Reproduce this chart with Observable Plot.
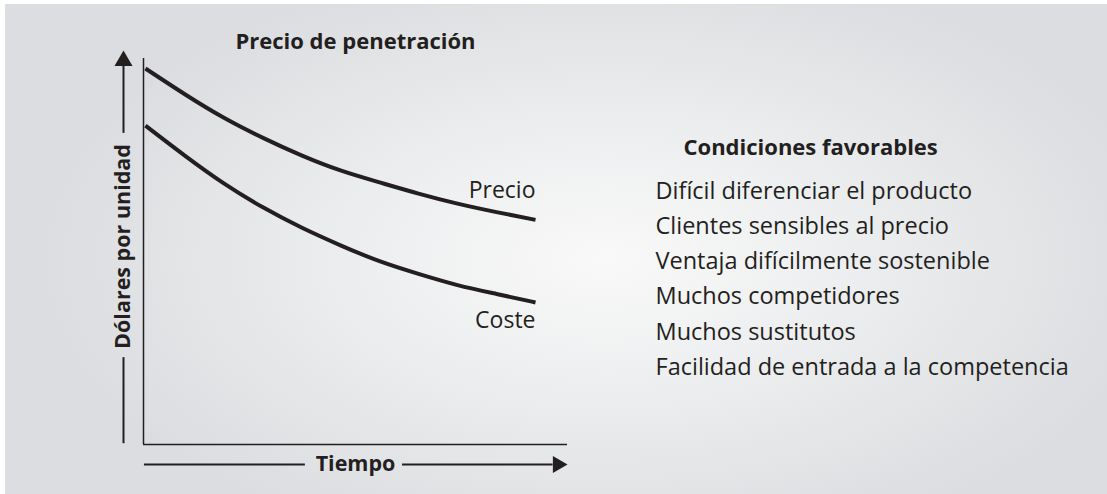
<!DOCTYPE html>
<html>
<head>
<meta charset="utf-8">
<script src="https://cdn.jsdelivr.net/npm/d3@7"></script>
<script src="https://cdn.jsdelivr.net/npm/@observablehq/plot@0.6"></script>
<style>
  html, body { margin: 0; padding: 0; background: #ffffff; }
  #wrap { position: relative; width: 1107px; height: 494px; overflow: hidden; }
  #bg { position: absolute; left: 5px; top: 4px; width: 1102px; height: 490px;
        background: radial-gradient(ellipse 560px 300px at 600px 255px, #f9f9f9 0%, #eeeff0 40%, #dcdde0 100%); }
  #chart { position: absolute; left: 0; top: 0; }
</style>
</head>
<body>
<div id="wrap"><div id="bg"></div><div id="chart"></div></div>
<script>
// ---- data ----
const times = [0, 1, 2, 3, 4, 5, 6, 7, 8, 9, 10];
const precio = [97.4, 90.8, 84.7, 79.5, 74.9, 71.0, 67.9, 65.0, 62.4, 60.2, 58.2];
const coste = [82.6, 74.9, 67.7, 61.5, 56.2, 51.6, 47.5, 44.2, 41.3, 39.0, 36.8];
const seriesNames = ["Precio", "Coste"];
const chartTitle = "Precio de penetración";
const xLabel = "Tiempo";
const yLabel = "Dólares por unidad";
const conditionsTitle = "Condiciones favorables";
const conditions = [
  "Difícil diferenciar el producto",
  "Clientes sensibles al precio",
  "Ventaja difícilmente sostenible",
  "Muchos competidores",
  "Muchos sustitutos",
  "Facilidad de entrada a la competencia"
];

// ---- build table ----
const rows = [];
times.forEach((t, i) => rows.push({series: seriesNames[0], t, v: precio[i]}));
times.forEach((t, i) => rows.push({series: seriesNames[1], t, v: coste[i]}));

const ink = "#231f20";
const xDomain = [-0.05, 10.82];
const yDomain = [0, 100];
const font = "'Open Sans', 'Noto Sans', sans-serif";

const chart = Plot.plot({
  width: 1107,
  height: 494,
  marginLeft: 143,
  marginRight: 540,
  marginTop: 58,
  marginBottom: 50,
  style: {background: "transparent", fontFamily: font, color: ink, overflow: "visible"},
  x: {domain: xDomain, axis: null},
  y: {domain: yDomain, axis: null},
  marks: [
    // axes
    Plot.ruleX([xDomain[0]], {stroke: ink, strokeWidth: 1.5}),
    Plot.ruleY([yDomain[0]], {stroke: ink, strokeWidth: 1.5}),
    // y arrow (left of axis)
    Plot.ruleX([xDomain[0]], {y1: 80.6, y2: 98.4, dx: -20, stroke: ink, strokeWidth: 2}),
    Plot.ruleX([xDomain[0]], {y1: 0.2, y2: 22.5, dx: -20, stroke: ink, strokeWidth: 2}),
    Plot.dot([{x: xDomain[0], y: 99.4}], {x: "x", y: "y", dx: -20, symbol: "triangle", r: 6.7, fill: ink, stroke: null}),
    Plot.text([yLabel], {frameAnchor: "left", textAnchor: "middle", lineAnchor: "middle", dx: -20, dy: -5, rotate: -90, fontSize: 21.5, fontWeight: "bold", fill: ink}),
    // x arrow (below axis)
    Plot.ruleY([yDomain[0]], {x1: -0.026, x2: 4.10, dy: 20, stroke: ink, strokeWidth: 2}),
    Plot.ruleY([yDomain[0]], {x1: 6.59, x2: 10.45, dy: 20, stroke: ink, strokeWidth: 2}),
    Plot.dot([{x: 10.57, y: yDomain[0]}], {x: "x", y: "y", dy: 20, symbol: "triangle", rotate: 90, r: 6.3, fill: ink, stroke: null}),
    Plot.text([xLabel], {frameAnchor: "bottom", lineAnchor: "middle", dy: 20, fontSize: 21.5, fontWeight: "bold", fill: ink}),
    // title
    Plot.text([chartTitle], {frameAnchor: "top", lineAnchor: "middle", dy: -17, fontSize: 22, fontWeight: "bold", fill: ink}),
    // curves
    Plot.line(rows, {x: "t", y: "v", z: "series", curve: "natural", stroke: ink, strokeWidth: 4, strokeLinecap: "butt"}),
    Plot.text(rows.filter(d => d.series === seriesNames[0]), Plot.selectLast({x: "t", y: "v", text: "series", textAnchor: "end", lineAnchor: "middle", dy: -29, fontSize: 23, fill: ink})),
    Plot.text(rows.filter(d => d.series === seriesNames[1]), Plot.selectLast({x: "t", y: "v", text: "series", textAnchor: "end", lineAnchor: "middle", dy: 18.6, fontSize: 23, fill: ink})),
    // conditions
    Plot.text([conditionsTitle], {frameAnchor: "top-right", dx: 116, dy: 80.4, textAnchor: "start", lineAnchor: "top", fontSize: 22, fontWeight: "bold", fill: ink}),
    Plot.text([conditions.join("\n")], {frameAnchor: "top-right", dx: 88, dy: 115.3, textAnchor: "start", lineAnchor: "top", lineHeight: 1.498, fontSize: 23.5, fill: ink})
  ]
});
document.getElementById("chart").appendChild(chart);
</script>
</body>
</html>
